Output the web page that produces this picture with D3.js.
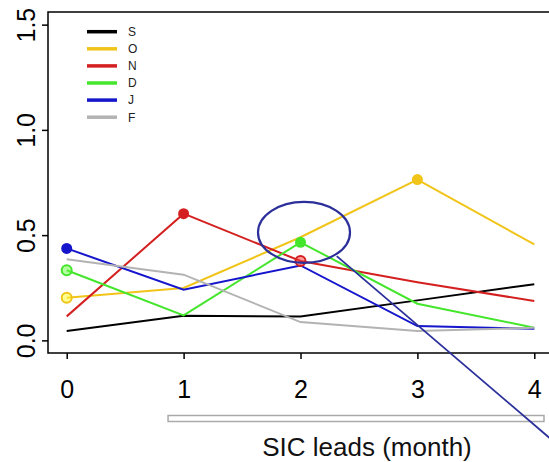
<!DOCTYPE html>
<html>
<head>
<meta charset="utf-8">
<script src="https://cdn.jsdelivr.net/npm/d3@7"></script>
<style>
  body { margin: 0; background: #fff; }
  text { font-family: "Liberation Sans", Arial, sans-serif; }
</style>
</head>
<body>
<div id="chart"></div>
<script>
// data
var leads = [0, 1, 2, 3, 4];
var seriesNames = ["S", "O", "N", "D", "J", "F"];
var S = [0.044, 0.117, 0.113, 0.19, 0.267];
var O = [0.203, 0.249, 0.49, 0.764, 0.456];
var N = [0.114, 0.602, 0.377, 0.276, 0.187];
var D = [0.333, 0.119, 0.466, 0.174, 0.06];
var J = [0.437, 0.241, 0.356, 0.068, 0.055];
var F = [0.385, 0.312, 0.087, 0.044, 0.06];
var yTicks = [0, 0.5, 1.0, 1.5];
// marked points: [series, lead index]
var filledPoints = [["J", 0], ["N", 1], ["D", 2], ["O", 3]];
var openPoints = [["D", 0], ["O", 0], ["N", 2]];

var values = { S: S, O: O, N: N, D: D, J: J, F: F };
var colors = { S: "#000000", O: "#f0c419", N: "#d42020", D: "#44e62c", J: "#1515cc", F: "#b3b3b3" };

var width = 549, height = 462;

var svg = d3.select("#chart")
  .append("svg")
  .attr("width", width)
  .attr("height", height);

// scales (R style padding of 4%)
var x = d3.scaleLinear().domain([-0.16, 4.16]).range([48, 553]);
var y = d3.scaleLinear().domain([-0.06, 1.56]).range([353, 12]);

// x axis
var xAxis = svg.append("g")
  .attr("transform", "translate(0,353)")
  .call(d3.axisBottom(x).tickValues(leads).tickSize(6).tickPadding(21).tickFormat(d3.format("d")));
xAxis.select(".domain").remove();
xAxis.selectAll("line").attr("stroke", "#000").attr("stroke-width", 1.5);
xAxis.selectAll("text").style("font-size", "25px").attr("fill", "#000");

// y axis with rotated labels
var yAxis = svg.append("g")
  .attr("transform", "translate(48,0)")
  .call(d3.axisLeft(y).tickValues(yTicks).tickSize(6).tickFormat(d3.format(".1f")));
yAxis.select(".domain").remove();
yAxis.selectAll("line").attr("stroke", "#000").attr("stroke-width", 1.5);
yAxis.selectAll("text")
  .attr("x", null)
  .attr("dy", null)
  .attr("transform", "translate(-13,0) rotate(-90)")
  .attr("text-anchor", "middle")
  .attr("fill", "#000")
  .style("font-size", "25px");

// box
svg.append("rect")
  .attr("x", x(-0.16))
  .attr("y", y(1.56))
  .attr("width", x(4.16) - x(-0.16))
  .attr("height", y(-0.06) - y(1.56))
  .attr("fill", "none")
  .attr("stroke", "#000")
  .attr("stroke-width", 1.5);

// lines
var line = d3.line()
  .x(function (d, i) { return x(leads[i]); })
  .y(function (d) { return y(d); });

seriesNames.forEach(function (name) {
  svg.append("path")
    .datum(values[name])
    .attr("d", line)
    .attr("fill", "none")
    .attr("stroke", colors[name])
    .attr("stroke-width", 2);
});

// open circles
svg.append("g")
  .selectAll("circle")
  .data(openPoints)
  .enter()
  .append("circle")
  .attr("cx", function (d) { return x(leads[d[1]]); })
  .attr("cy", function (d) { return y(values[d[0]][d[1]]); })
  .attr("r", 5)
  .attr("fill", function (d) { return d3.color(colors[d[0]]).brighter(1.2); })
  .attr("fill-opacity", 0.5)
  .attr("stroke", function (d) { return colors[d[0]]; })
  .attr("stroke-width", 2);

// filled circles
svg.append("g")
  .selectAll("circle")
  .data(filledPoints)
  .enter()
  .append("circle")
  .attr("cx", function (d) { return x(leads[d[1]]); })
  .attr("cy", function (d) { return y(values[d[0]][d[1]]); })
  .attr("r", 5.5)
  .attr("fill", function (d) { return colors[d[0]]; });

// legend
var legend = svg.append("g");
seriesNames.forEach(function (name, i) {
  var ly = 31.7 + i * 17.1;
  legend.append("line")
    .attr("x1", 87).attr("x2", 117)
    .attr("y1", ly).attr("y2", ly)
    .attr("stroke", colors[name])
    .attr("stroke-width", 3.5);
  legend.append("text")
    .attr("x", 128)
    .attr("y", ly + 4.3)
    .style("font-size", "12px")
    .attr("fill", "#222")
    .text(name);
});

// grey bar under the axis
svg.append("rect")
  .attr("x", x(0.867))
  .attr("y", 415.5)
  .attr("width", x(4.083) - x(0.867))
  .attr("height", 6)
  .attr("fill", "#fff")
  .attr("stroke", "#aaa")
  .attr("stroke-width", 1.5);

// x axis title
svg.append("text")
  .attr("x", 367)
  .attr("y", 455.5)
  .attr("text-anchor", "middle")
  .style("font-size", "26px")
  .attr("fill", "#111")
  .text("SIC leads (month)");

// annotation: ellipse and pointer line
svg.append("ellipse")
  .attr("cx", x(2.03))
  .attr("cy", y(0.513))
  .attr("rx", 46)
  .attr("ry", 30.5)
  .attr("fill", "none")
  .attr("stroke", "#2a2f9a")
  .attr("stroke-width", 2.2);

svg.append("line")
  .attr("x1", x(2.31)).attr("y1", y(0.40))
  .attr("x2", x(4.216)).attr("y2", y(-0.504))
  .attr("stroke", "#2a2f9a")
  .attr("stroke-width", 1.8);
</script>
</body>
</html>
